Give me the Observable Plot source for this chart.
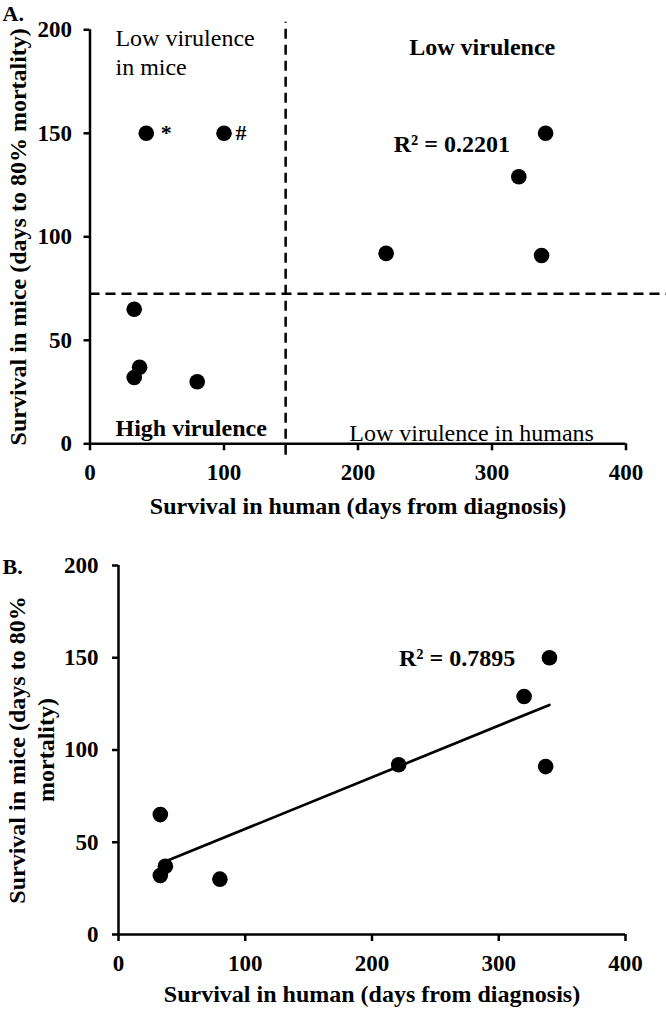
<!DOCTYPE html>
<html>
<head>
<meta charset="utf-8">
<script src="https://cdn.jsdelivr.net/npm/d3@7"></script>
<script src="https://cdn.jsdelivr.net/npm/@observablehq/plot@0.6"></script>
<style>
  html, body { margin: 0; padding: 0; background: #fff; }
  #wrap { width: 666px; height: 1010px; position: relative; overflow: hidden; background: #fff; }
  #wrap svg { display: block; }
  #wrap g[aria-label^="x-axis"] line, #wrap g[aria-label^="y-axis"] line,
  #wrap g[aria-label^="x-axis"] path, #wrap g[aria-label^="y-axis"] path { stroke-width: 2.5px; }
</style>
</head>
<body>
<div id="wrap"></div>
<script>
// ---- data ----
const strainMarker   = ["*", "#", "", "", "", "", "", "", "", ""];
const humanSurvival  = [42, 100, 340, 320, 221, 337, 33, 37, 33, 80];
const miceSurvival   = [150, 150, 150, 129, 92, 91, 65, 37, 32, 30];
const inPanelB       = [false, false, true, true, true, true, true, true, true, true];

const xTicks = [0, 100, 200, 300, 400];
const yTicks = [0, 50, 100, 150, 200];

const humanCutoff = 146;   // vertical dashed line (days)
const miceCutoff = 72.5;   // horizontal dashed line (days)

const r2A = "R² = 0.2201";
const r2B = "R² = 0.7895";
const xTitle = "Survival in human (days from diagnosis)";
const yTitleA = "Survival in mice (days to 80% mortality)";
const yTitleB = "Survival in mice (days to 80%\nmortality)";
const quadrantTopLeft = "Low virulence\nin mice";
const quadrantTopRight = "Low virulence";
const quadrantBottomLeft = "High virulence";
const quadrantBottomRight = "Low virulence in humans";

// ---- tables ----
const rows = humanSurvival.map((h, i) => ({human: h, mice: miceSurvival[i], marker: strainMarker[i], inB: inPanelB[i]}));
const rowsB = rows.filter(d => d.inB);

const fontFamily = '"Liberation Serif", "Times New Roman", Times, serif';
const baseStyle = {fontFamily, fontSize: "23px", fontWeight: "bold", color: "black", background: "white", overflow: "visible"};
const T = d => d;

// ---- Panel A ----
const chartA = Plot.plot({
  width: 666, height: 520,
  marginLeft: 89.5, marginRight: 40.5, marginTop: 29.3, marginBottom: 76.7,
  style: baseStyle,
  x: {domain: [0, 400], ticks: xTicks, tickSize: 7, tickPadding: 13, label: null},
  y: {domain: [0, 200], ticks: yTicks, tickSize: 6, tickPadding: 12, label: null},
  marks: [
    Plot.ruleY([0], {stroke: "black", strokeWidth: 2.5}),
    Plot.ruleX([0], {stroke: "black", strokeWidth: 2.5}),
    Plot.ruleX([humanCutoff], {y1: -5.5, y2: 203.7, stroke: "black", strokeWidth: 2.5, strokeDasharray: "10,6"}),
    Plot.ruleY([miceCutoff], {x1: 0, x2: 432, stroke: "black", strokeWidth: 2.5, strokeDasharray: "10,6"}),
    Plot.dot(rows, {x: "human", y: "mice", r: 7.8, fill: "black", stroke: null}),
    Plot.text(rows.filter(d => d.marker === "*"), {x: "human", y: "mice", text: "marker", dx: 20, lineAnchor: "middle", fontSize: 22}),
    Plot.text(rows.filter(d => d.marker === "#"), {x: "human", y: "mice", text: "marker", dx: 17, lineAnchor: "middle", fontSize: 22}),
    Plot.text([quadrantTopLeft], {text: T, x: 19, y: 200, dy: -5, textAnchor: "start", lineAnchor: "top", lineHeight: 1.22, fontSize: 24, fontWeight: "normal"}),
    Plot.text([quadrantTopRight], {text: T, x: 292.7, y: 188, textAnchor: "middle", lineAnchor: "bottom", fontSize: 24}),
    Plot.text([quadrantBottomLeft], {text: T, x: 19, y: 4, textAnchor: "start", lineAnchor: "bottom", fontSize: 24}),
    Plot.text([quadrantBottomRight], {text: T, x: 193.5, y: 1.5, textAnchor: "start", lineAnchor: "bottom", fontSize: 24, fontWeight: "normal"}),
    Plot.text([r2A], {text: T, x: 226.7, y: 141, textAnchor: "start", lineAnchor: "bottom", fontSize: 24}),
    Plot.text(["A."], {text: T, frameAnchor: "top-left", dx: -87.5, dy: -8.5, textAnchor: "start", lineAnchor: "bottom", fontSize: 22}),
    Plot.text([yTitleA], {text: T, frameAnchor: "left", rotate: -90, dx: -64.5, textAnchor: "middle", lineAnchor: "bottom", fontSize: 24}),
    Plot.text([xTitle], {text: T, frameAnchor: "bottom", dy: 70, textAnchor: "middle", lineAnchor: "bottom", fontSize: 24})
  ]
});

// ---- Panel B ----
const chartB = Plot.plot({
  width: 666, height: 490,
  marginLeft: 118, marginRight: 41, marginTop: 45, marginBottom: 76,
  style: baseStyle,
  x: {domain: [0, 400], ticks: xTicks, tickSize: 7, tickPadding: 13, label: null},
  y: {domain: [0, 200], ticks: yTicks, tickSize: 6, tickPadding: 14, label: null},
  marks: [
    Plot.ruleY([0], {stroke: "black", strokeWidth: 2.5}),
    Plot.ruleX([0], {stroke: "black", strokeWidth: 2.5}),
    Plot.linearRegressionY(rowsB, {x: "human", y: "mice", ci: 0, stroke: "black", strokeWidth: 2.7}),
    Plot.dot(rowsB, {x: "human", y: "mice", r: 7.8, fill: "black", stroke: null}),
    Plot.text([r2B], {text: T, x: 313, y: 145.3, textAnchor: "end", lineAnchor: "bottom", fontSize: 24}),
    Plot.text(["B."], {text: T, frameAnchor: "top-left", dx: -116, dy: 8, textAnchor: "start", lineAnchor: "bottom", fontSize: 22}),
    Plot.text([yTitleB], {text: T, frameAnchor: "left", rotate: -90, dx: -65, textAnchor: "middle", lineAnchor: "bottom", lineHeight: 1.17, fontSize: 24}),
    Plot.text([xTitle], {text: T, frameAnchor: "bottom", dy: 67, textAnchor: "middle", lineAnchor: "bottom", fontSize: 24})
  ]
});

const wrap = document.getElementById("wrap");
wrap.appendChild(chartA);
wrap.appendChild(chartB);
</script>
</body>
</html>
